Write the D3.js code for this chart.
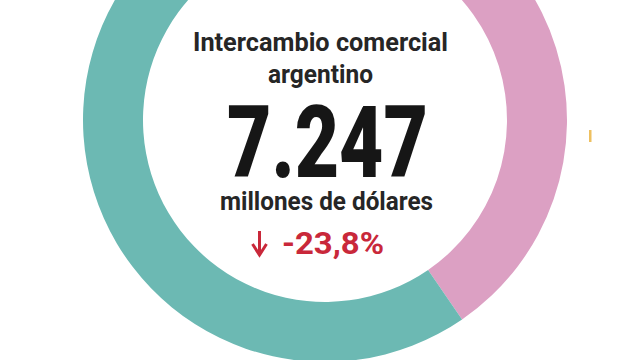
<!DOCTYPE html>
<html>
<head>
<meta charset="utf-8">
<script src="https://cdn.jsdelivr.net/npm/d3@7"></script>
<style>
  html, body { margin: 0; padding: 0; background: #ffffff; }
  svg { display: block; }
</style>
</head>
<body>
<svg id="chart" width="640" height="360"></svg>
<script>
// ---- data ----
const categories = ["Importaciones", "Exportaciones"];
const values = [2929, 4318];
const totalLabel = "7.247";
const titleLines = ["Intercambio comercial", "argentino"];
const unitLabel = "millones de dólares";
const changeLabel = "-23,8%";

// ---- styles ----
const colorMap = { "Importaciones": "#dca0c3", "Exportaciones": "#6cb9b3" };

const svg = d3.select("#chart");
const cx = 325, cy = 120, outerR = 242, innerR = 182;

const pie = d3.pie().sort(null).value(d => d.value);
const arc = d3.arc().innerRadius(innerR).outerRadius(outerR);
const data = categories.map((c, i) => ({ cat: c, value: values[i] }));

const g = svg.append("g").attr("transform", `translate(${cx},${cy})`);
g.selectAll("path")
  .data(pie(data))
  .join("path")
  .attr("d", arc)
  .attr("fill", d => colorMap[d.data.cat]);

// small decorative mark on the right
svg.append("rect").attr("x", 589).attr("y", 130).attr("width", 2.5).attr("height", 12)
  .attr("fill", "#eec060");

const font = "Roboto, 'Liberation Sans', sans-serif";
function addText(txt, x, y, size, len, color, weight) {
  svg.append("text")
    .attr("x", x).attr("y", y)
    .attr("font-family", font)
    .attr("font-weight", weight || 700)
    .attr("font-size", size)
    .attr("fill", color)
    .attr("textLength", len)
    .attr("lengthAdjust", "spacingAndGlyphs")
    .text(txt);
}
addText(titleLines[0], 193, 51, 26, 255, "#262626");
addText(titleLines[1], 268, 83, 26, 105, "#262626");
addText(totalLabel, 227, 177, 101, 201, "#161616", 900);
addText(unitLabel, 220, 210, 26, 213, "#262626");
// arrow
svg.append("line").attr("x1", 259.5).attr("y1", 231).attr("x2", 259.5).attr("y2", 252)
  .attr("stroke", "#c9283a").attr("stroke-width", 3);
svg.append("path").attr("d", "M252.5,244 L259.5,255 L266.5,244")
  .attr("fill", "none").attr("stroke", "#c9283a").attr("stroke-width", 3)
  .attr("stroke-linejoin", "miter");
addText(changeLabel, 282, 254, 32, 102, "#c9283a");
</script>
</body>
</html>
